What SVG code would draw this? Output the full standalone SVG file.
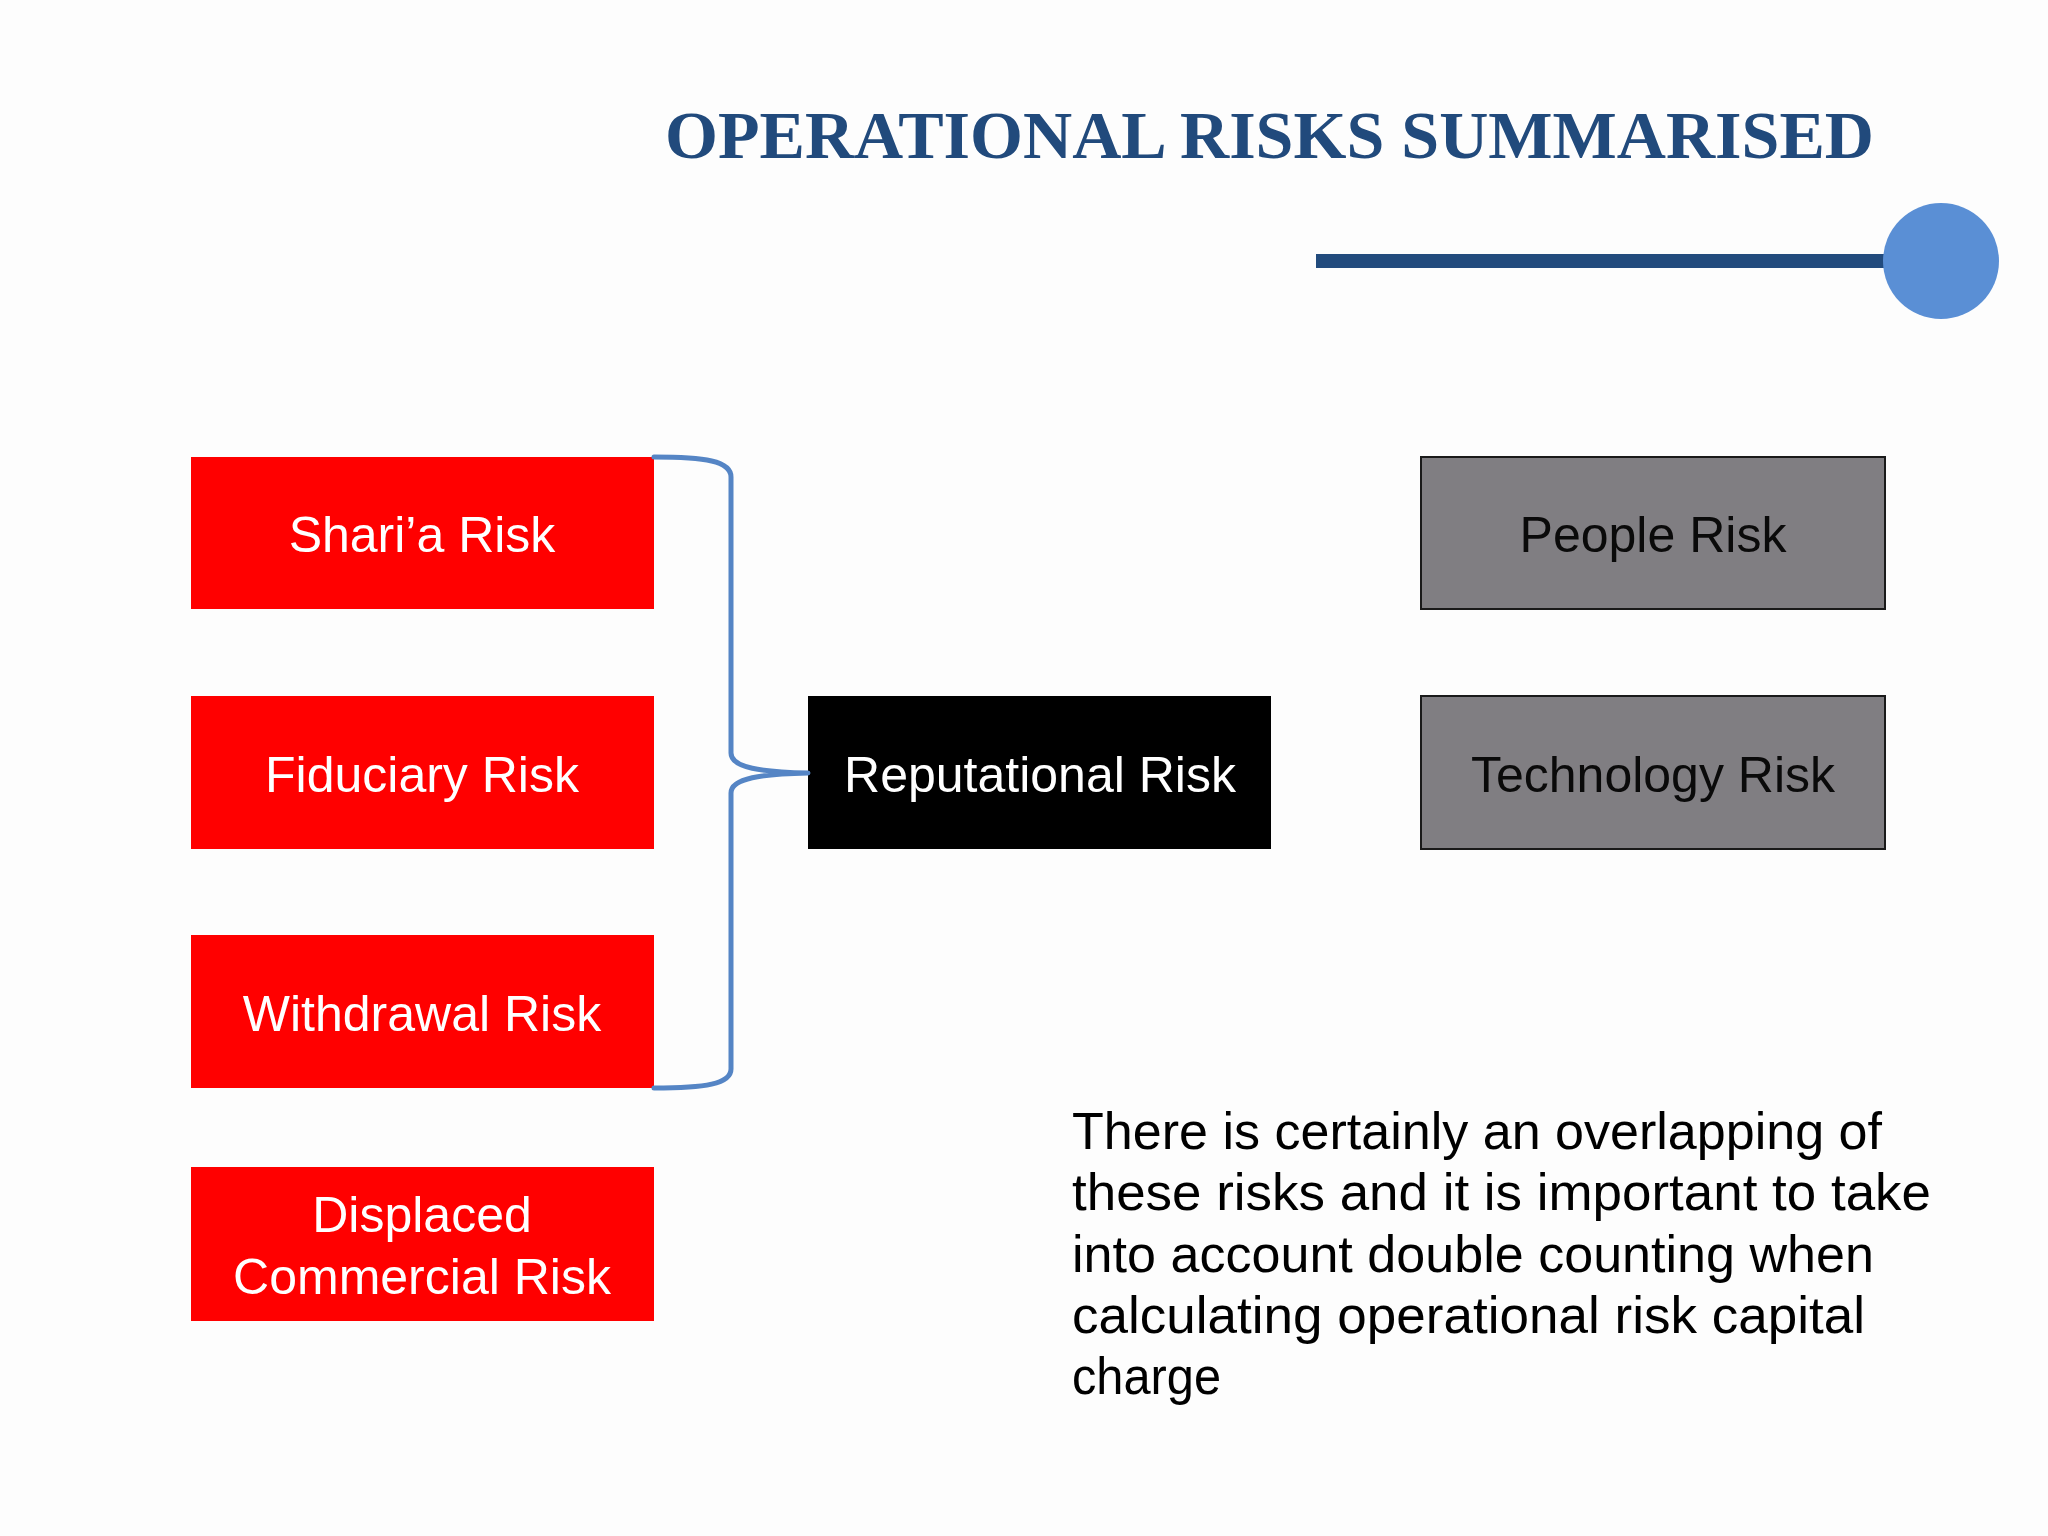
<svg xmlns="http://www.w3.org/2000/svg" width="2048" height="1536" viewBox="0 0 2048 1536">
<style>
.red{fill:#ff0000;}
.gray{fill:#807e82;stroke:#1a1a1a;stroke-width:2;}
.blk{fill:#000000;}
.lbl{font-family:"Liberation Sans",Arial,sans-serif;font-size:50px;text-anchor:middle;}
.w{fill:#ffffff;}
.k{fill:#0a0a0a;}
.para{font-family:"Liberation Sans",Arial,sans-serif;font-size:52px;fill:#000000;}
.title{font-family:"Liberation Serif","Times New Roman",serif;font-weight:bold;font-size:68px;fill:#214a7c;}
.brace{fill:none;stroke:#5585c5;stroke-width:5;stroke-linecap:round;stroke-linejoin:round;}
</style>
<rect x="0" y="0" width="2048" height="1536" fill="#fdfdfd"/>
<g id="header">
<text class="title" x="665" y="158" textLength="1209" lengthAdjust="spacingAndGlyphs">OPERATIONAL RISKS SUMMARISED</text>
<rect x="1316" y="254" width="580" height="14" fill="#224b7d"/>
<circle cx="1941" cy="261" r="58" fill="#5a8fd5"/>
</g>
<g id="node-sharia">
<rect class="red" x="191" y="457" width="463" height="152"/>
<text class="lbl w" x="422" y="552">Shari’a Risk</text>
</g>
<g id="node-fiduciary">
<rect class="red" x="191" y="696" width="463" height="153"/>
<text class="lbl w" x="422" y="792">Fiduciary Risk</text>
</g>
<g id="node-withdrawal">
<rect class="red" x="191" y="935" width="463" height="153"/>
<text class="lbl w" x="422" y="1031">Withdrawal Risk</text>
</g>
<g id="node-displaced">
<rect class="red" x="191" y="1167" width="463" height="154"/>
<text class="lbl w" x="422" y="1232">Displaced</text>
<text class="lbl w" x="422" y="1294">Commercial Risk</text>
</g>
<g id="node-reputational">
<rect class="blk" x="808" y="696" width="463" height="153"/>
<text class="lbl w" x="1040" y="792">Reputational Risk</text>
</g>
<g id="node-people">
<rect class="gray" x="1421" y="457" width="464" height="152"/>
<text class="lbl k" x="1653" y="552">People Risk</text>
</g>
<g id="node-technology">
<rect class="gray" x="1421" y="696" width="464" height="153"/>
<text class="lbl k" x="1653" y="792">Technology Risk</text>
</g>
<g id="connectors">
<path class="brace" d="M654,457 C705,457 731,461 731,477 L731,753 C731,768 762,772 808,773 C762,774 731,778 731,793 L731,1069 C731,1084 705,1088 654,1088"/>
</g>
<g id="note">
<text class="para" x="1072" y="1149" textLength="810" lengthAdjust="spacingAndGlyphs">There is certainly an overlapping of</text>
<text class="para" x="1072" y="1210" textLength="859" lengthAdjust="spacingAndGlyphs">these risks and it is important to take</text>
<text class="para" x="1072" y="1272" textLength="802" lengthAdjust="spacingAndGlyphs">into account double counting when</text>
<text class="para" x="1072" y="1333" textLength="793" lengthAdjust="spacingAndGlyphs">calculating operational risk capital</text>
<text class="para" x="1072" y="1394" textLength="149" lengthAdjust="spacingAndGlyphs">charge</text>
</g>
</svg>
